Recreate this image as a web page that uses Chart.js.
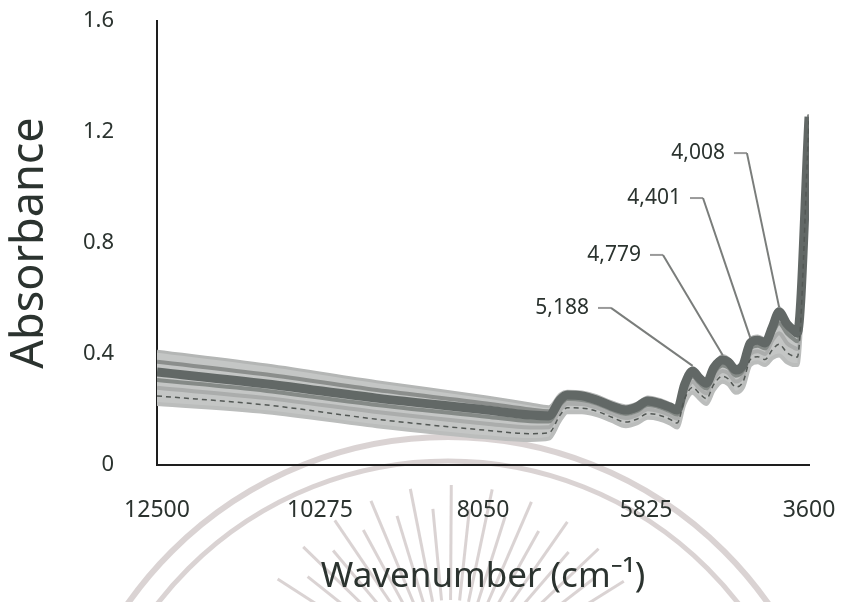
<!DOCTYPE html>
<html>
<head>
<meta charset="utf-8">
<title>NIR spectra</title>
<script src="https://cdn.jsdelivr.net/npm/chart.js@4.4.1/dist/chart.umd.min.js"></script>
<style>
  html, body { margin: 0; padding: 0; background: #ffffff; }
  #wrap { width: 844px; height: 602px; }
</style>
</head>
<body>
<div id="wrap"><canvas id="spectra" width="844" height="602"></canvas></div>
<script>
// Wavenumbers (cm-1) at which the spectra are sampled
const wavenumbers = [12500, 11000, 9500, 8000, 7400, 7150, 7000, 6900, 6700, 6500,
  6300, 6100, 5950, 5800, 5650, 5500, 5400, 5300, 5188, 5100,
  5000, 4900, 4779, 4700, 4600, 4500, 4401, 4300, 4200, 4100,
  4008, 3900, 3800, 3760, 3600];

// Absorbance of each sample spectrum, highest to lowest baseline
const sampleA = [0.410, 0.360, 0.300, 0.245, 0.220, 0.210, 0.255, 0.266, 0.263, 0.250,
  0.228, 0.213, 0.223, 0.245, 0.237, 0.222, 0.210, 0.300, 0.350, 0.325,
  0.307, 0.362, 0.395, 0.385, 0.356, 0.375, 0.455, 0.465, 0.455, 0.510,
  0.568, 0.522, 0.495, 0.490, 1.265];
const sampleB = [0.372, 0.326, 0.270, 0.222, 0.200, 0.194, 0.245, 0.259, 0.256, 0.242,
  0.221, 0.206, 0.216, 0.238, 0.230, 0.216, 0.204, 0.294, 0.345, 0.320,
  0.301, 0.356, 0.387, 0.378, 0.349, 0.368, 0.448, 0.458, 0.448, 0.504,
  0.560, 0.515, 0.489, 0.483, 1.262];
const sampleC = [0.335, 0.292, 0.241, 0.198, 0.180, 0.177, 0.234, 0.252, 0.249, 0.234,
  0.213, 0.198, 0.209, 0.231, 0.223, 0.209, 0.198, 0.288, 0.339, 0.314,
  0.295, 0.350, 0.378, 0.371, 0.342, 0.360, 0.440, 0.450, 0.440, 0.497,
  0.551, 0.508, 0.483, 0.475, 1.255];
const sampleD = [0.306, 0.267, 0.216, 0.174, 0.158, 0.157, 0.216, 0.237, 0.234, 0.221,
  0.200, 0.184, 0.194, 0.216, 0.209, 0.194, 0.182, 0.271, 0.319, 0.296,
  0.276, 0.330, 0.359, 0.351, 0.322, 0.340, 0.420, 0.430, 0.420, 0.473,
  0.511, 0.474, 0.452, 0.446, 1.250];
const sampleE = [0.278, 0.241, 0.191, 0.149, 0.135, 0.136, 0.197, 0.221, 0.220, 0.207,
  0.187, 0.169, 0.180, 0.201, 0.194, 0.180, 0.167, 0.254, 0.300, 0.277,
  0.258, 0.310, 0.339, 0.331, 0.301, 0.320, 0.400, 0.410, 0.400, 0.449,
  0.475, 0.439, 0.422, 0.418, 1.245];
const sampleF = [0.249, 0.216, 0.165, 0.125, 0.113, 0.116, 0.179, 0.206, 0.205, 0.194,
  0.173, 0.155, 0.165, 0.185, 0.180, 0.165, 0.151, 0.237, 0.280, 0.259,
  0.239, 0.290, 0.320, 0.310, 0.281, 0.300, 0.380, 0.390, 0.380, 0.415,
  0.435, 0.405, 0.391, 0.389, 1.240];
const sampleG = [0.220, 0.190, 0.140, 0.100, 0.090, 0.095, 0.160, 0.190, 0.190, 0.180,
  0.160, 0.140, 0.150, 0.170, 0.165, 0.150, 0.135, 0.220, 0.260, 0.240,
  0.220, 0.270, 0.300, 0.290, 0.260, 0.280, 0.360, 0.370, 0.360, 0.385,
  0.395, 0.370, 0.360, 0.360, 1.235];

// Axis tick values
const xTickValues = [12500, 10275, 8050, 5825, 3600];
const yTickValues = [0, 0.4, 0.8, 1.2, 1.6];

// Absorption bands called out on the plot (cm-1)
const peakBands = [5188, 4779, 4401, 4008];

// Where each call-out's leader bends, in axis units (wavenumber, absorbance)
const calloutElbows = [
  { wn: 6303, abs: 0.566 },
  { wn: 5593, abs: 0.757 },
  { wn: 5047, abs: 0.962 },
  { wn: 4447, abs: 1.124 }
];

const TEXT = '#2b332f';
const FONT = '"Noto Sans", "DejaVu Sans", sans-serif';

const points = arr => wavenumbers.map((w, i) => ({ x: w, y: arr[i] }));

// Draw order: index 0 ends up on top
const lineStyles = [
  { data: sampleF, color: '#535855', width: 1.5, dash: [5, 4] },
  { data: sampleC, color: '#626866', width: 9 },
  { data: sampleD, color: '#858a87', width: 4 },
  { data: sampleB, color: '#8b8e8c', width: 4 },
  { data: sampleA, color: '#b4b6b5', width: 3 },
  { data: sampleE, color: '#abadac', width: 4 },
  { data: sampleG, color: '#bbbdbc', width: 4 }
];

const datasets = lineStyles.map(s => ({
  data: points(s.data),
  borderColor: s.color,
  borderWidth: s.width,
  borderDash: s.dash || [],
  pointRadius: 0,
  cubicInterpolationMode: 'monotone',
  fill: false
}));
// grey body of the spectral band, between the highest and lowest spectra
datasets[4].fill = { target: 6 };
datasets[4].backgroundColor = '#c4c6c5';

// Faint circular emblem behind the plot
const emblem = {
  id: 'emblem',
  beforeDraw(chart) {
    const ctx = chart.ctx;
    ctx.save();
    ctx.strokeStyle = 'rgba(205,196,196,0.75)';
    ctx.lineWidth = 6;
    ctx.beginPath(); ctx.arc(448, 828, 391, Math.PI, 2 * Math.PI); ctx.stroke();
    ctx.lineWidth = 5;
    ctx.beginPath(); ctx.arc(448, 828, 367, Math.PI, 2 * Math.PI); ctx.stroke();
    ctx.lineWidth = 3;
    const cx = 450, cy = 690;
    for (let k = 0; k <= 28; k++) {
      const a = -Math.PI * (0.05 + k * 0.032);
      const r1 = 90, r2 = (k % 2 === 0) ? 205 : 182;
      ctx.beginPath();
      ctx.moveTo(cx + r1 * Math.cos(a), cy + r1 * Math.sin(a));
      ctx.lineTo(cx + r2 * Math.cos(a), cy + r2 * Math.sin(a));
      ctx.stroke();
    }
    ctx.restore();
  }
};

// Leader lines and labels for the marked absorption bands
const callouts = {
  id: 'callouts',
  afterDatasetsDraw(chart) {
    const { ctx, scales: { x, y } } = chart;
    peakBands.forEach((wn, k) => {
      const i = wavenumbers.indexOf(wn);
      const px = x.getPixelForValue(wn);
      const py = y.getPixelForValue(sampleC[i]) - 5;
      const ex = x.getPixelForValue(calloutElbows[k].wn);
      const ey = y.getPixelForValue(calloutElbows[k].abs);
      ctx.save();
      ctx.lineWidth = 2;
      ctx.strokeStyle = '#9a9a9a';
      ctx.beginPath(); ctx.moveTo(ex - 13, ey); ctx.lineTo(ex, ey); ctx.stroke();
      ctx.strokeStyle = '#7a7d7b';
      ctx.beginPath(); ctx.moveTo(ex, ey); ctx.lineTo(px, py); ctx.stroke();
      ctx.fillStyle = TEXT;
      ctx.font = '21px ' + FONT;
      ctx.textAlign = 'right';
      ctx.textBaseline = 'middle';
      ctx.fillText(wn.toLocaleString('en-US'), ex - 22, ey);
      ctx.restore();
    });
  }
};

new Chart(document.getElementById('spectra'), {
  type: 'line',
  data: { datasets },
  plugins: [emblem, callouts],
  options: {
    responsive: false,
    animation: false,
    events: [],
    layout: { padding: { top: 21, right: 35, bottom: 0, left: 0 } },
    plugins: {
      legend: { display: false },
      tooltip: { enabled: false },
      filler: { drawTime: 'beforeDatasetsDraw' }
    },
    scales: {
      x: {
        type: 'linear',
        reverse: true,
        min: 3600,
        max: 12500,
        afterBuildTicks: s => { s.ticks = xTickValues.map(v => ({ value: v })); },
        afterFit: s => { s.height = 137; s.paddingLeft = 0; s.paddingRight = 0; },
        grid: { display: false },
        border: { display: true, color: '#1e1e1e', width: 2 },
        ticks: {
          color: TEXT,
          font: { family: FONT, size: 23 },
          padding: 24,
          maxRotation: 0,
          autoSkip: false,
          callback: v => String(v)
        },
        title: {
          display: true,
          text: 'Wavenumber (cm\u207B\u00B9)',
          color: TEXT,
          font: { family: FONT, size: 35 },
          padding: { top: 0, bottom: 4 }
        }
      },
      y: {
        min: 0,
        max: 1.6,
        afterBuildTicks: s => { s.ticks = yTickValues.map(v => ({ value: v })); },
        afterFit: s => { s.width = 157; s.paddingTop = 0; s.paddingBottom = 0; },
        grid: { display: false },
        border: { display: true, color: '#1e1e1e', width: 2 },
        ticks: {
          color: TEXT,
          font: { family: FONT, size: 22 },
          padding: 35,
          callback: v => (v === 0 ? '0' : v.toFixed(1))
        },
        title: {
          display: true,
          text: 'Absorbance',
          color: TEXT,
          font: { family: FONT, size: 45 },
          padding: { top: 3, bottom: 0 }
        }
      }
    }
  }
});
</script>
</body>
</html>
